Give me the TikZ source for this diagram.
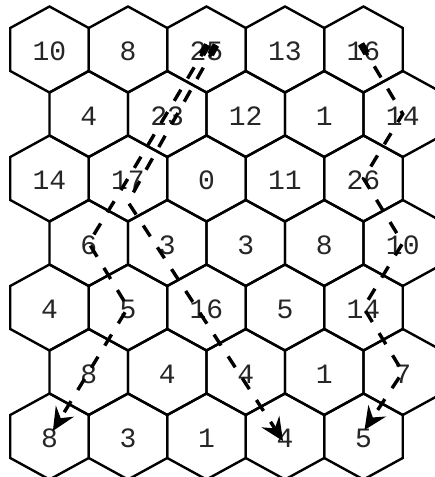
\documentclass[tikz,border=0pt]{standalone}
\usepackage{fontspec}
\newfontfamily\hexfont{Liberation Mono}
\usetikzlibrary{arrows.meta,calc}
\begin{document}
\begin{tikzpicture}[x=1pt,y=1pt,
  hexedge/.style={line width=2.4pt, line join=miter},
  hexnum/.style={font=\hexfont\fontsize{28}{28}\selectfont, inner sep=0pt, text=black!85},
  route/.style={line width=3.4pt, dash pattern=on 13pt off 13pt,
    -{Stealth[length=23pt,width=21pt,inset=8pt]}},
  routestart/.style={line width=7pt}]
\useasboundingbox (0,0) rectangle (435,477);
\fill[white] (0,0) rectangle (435,477);
\begin{scope}
\clip (0,0) rectangle (435,477);
\foreach \r/\labels in {0/{10,8,25,13,16},1/{4,23,12,1,14},2/{14,17,0,11,26},
  3/{6,3,3,8,10},4/{4,5,16,5,14},5/{8,4,4,1,7},6/{8,3,1,4,5}}{
  \foreach \l [count=\c from 0] in \labels {
    \pgfmathsetmacro\hx{49.5+78.5*\c+39.25*mod(\r,2)}
    \pgfmathsetmacro\hy{427.5-64.5*\r}
    \coordinate (c-\r-\c) at (\hx,\hy);
    \draw[hexedge] (\hx,\hy) ++(0,43) -- ++(39.25,-21.5) -- ++(0,-43)
      -- ++(-39.25,-21.5) -- ++(-39.25,21.5) -- ++(0,43) -- cycle;
    \node[hexnum] (h-\r-\c) at ($(\hx,\hy)+(0,-2)$) {\l};
  }
}
% route 1
\coordinate (a1s) at ($(c-0-2)+(1,4.5)$);
\coordinate (a1e) at ($(c-6-0)!6.5pt!(c-5-0)$);
\draw[route] (a1s) -- (c-2-1) -- (c-3-0) -- (c-4-1) -- (a1e);
\draw[routestart] (a1s) -- ($(a1s)!11pt!(c-2-1)$);
% route 2
\coordinate (a2s) at ($(c-0-2)+(9.5,4.5)$);
\coordinate (a2m) at ($(c-2-1)+(0,-23.5)$);
\coordinate (a2e) at ($(c-6-3)+(-2,-4.5)$);
\draw[route] (a2s) -- (a2m) -- (a2e);
\draw[routestart] (a2s) -- ($(a2s)!11pt!(a2m)$);
% route 3
\coordinate (a3s) at ($(c-0-4)+(-2.5,5.5)$);
\coordinate (a3e) at ($(c-6-4)+(1,6.5)$);
\draw[route] (a3s) -- (c-1-4) -- (c-2-4) -- (c-3-4) -- (c-4-4) -- (c-5-4) -- (a3e);
\draw[routestart] (a3s) -- ($(a3s)!11pt!(c-1-4)$);
\end{scope}
\end{tikzpicture}
\end{document}
